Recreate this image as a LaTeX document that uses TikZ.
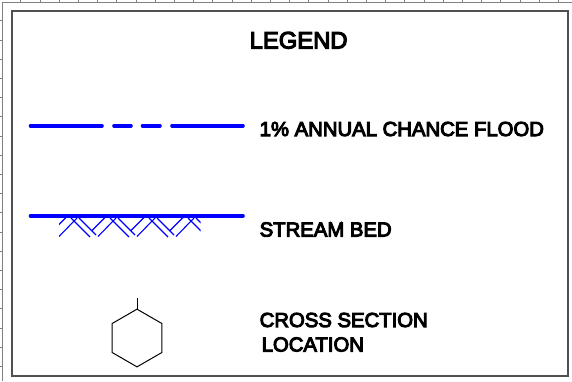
\documentclass[tikz,border=0pt]{standalone}
\usepackage{fontspec}
\newfontfamily\legendfont[FakeBold=5]{Liberation Sans}
\usetikzlibrary{shapes.geometric}
\definecolor{legendblue}{HTML}{0000FF}
\definecolor{framegray}{HTML}{505050}

\begin{document}
\begin{tikzpicture}[
            x=1pt, y=-1pt,
            legendtext/.style={anchor=base west, inner sep=0pt, font=\fontsize{20.3}{24}\legendfont},
            floodline/.style={draw=legendblue, line width=3.6pt, line cap=round},
            hatchline/.style={draw=legendblue, line width=1.1pt},
            sheetframe/.style={draw=framegray, line width=1.5pt},
            rulerline/.style={draw=gray, line width=0.8pt}
        ]
          \useasboundingbox (0,0) rectangle (572,381);

          % sheet ruler and frame
          \draw[rulerline] (572,2) -- (2,2) -- (2,381);
          \foreach \k in {0,...,28} {
              \draw[rulerline] (20.8+19.2*\k,0) -- (20.8+19.2*\k,2);
          }
          \foreach \k in {0,...,18} {
              \draw[rulerline] (0,20.8+19.2*\k) -- (2,20.8+19.2*\k);
          }
          \draw[sheetframe] (12,11) rectangle (568,376);

          \node[legendtext, font=\fontsize{23.8}{24}\legendfont] (title) at (249.5,48.5) {LEGEND};

          % flood line
          \draw[floodline] (30.5,125.7) -- (102,125.7) (114,125.7) -- (131,125.7)
              (142.5,125.7) -- (160,125.7) (172,125.7) -- (243,125.7);
          \node[legendtext] (flood) at (259.5,136) {1\% ANNUAL CHANCE FLOOD};

          % stream bed
          \draw[floodline] (30.5,216) -- (243,216);
          \begin{scope}
              \clip (59,217) rectangle (200.5,237);
              \foreach \k in {-1,0,1,2,3} {
                  \draw[hatchline] (98+39*\k,236.5) -- (116+39*\k,218);
                  \draw[hatchline] (92+39*\k,230.5) -- (105+39*\k,217.5);
                  \draw[hatchline] (110+39*\k,218) -- (129+39*\k,237);
                  \draw[hatchline] (118+39*\k,218) -- (135+39*\k,235);
              }
          \end{scope}
          \node[legendtext] (bed) at (259.5,236.5) {STREAM BED};

          % cross section symbol
          \node[regular polygon, regular polygon sides=6, shape border rotate=30, draw, line width=1pt,
              minimum size=57.7pt, inner sep=0pt, outer sep=0pt] (xsec) at (137,338) {};
          \draw[line width=1pt] (xsec.corner 1) -- ++(0,-11);
          \node[legendtext] (xsectop) at (259.5,327) {CROSS SECTION};
          \node[legendtext] (xsecbottom) at (261.5,351.5) {LOCATION};
        \end{tikzpicture}
\end{document}
